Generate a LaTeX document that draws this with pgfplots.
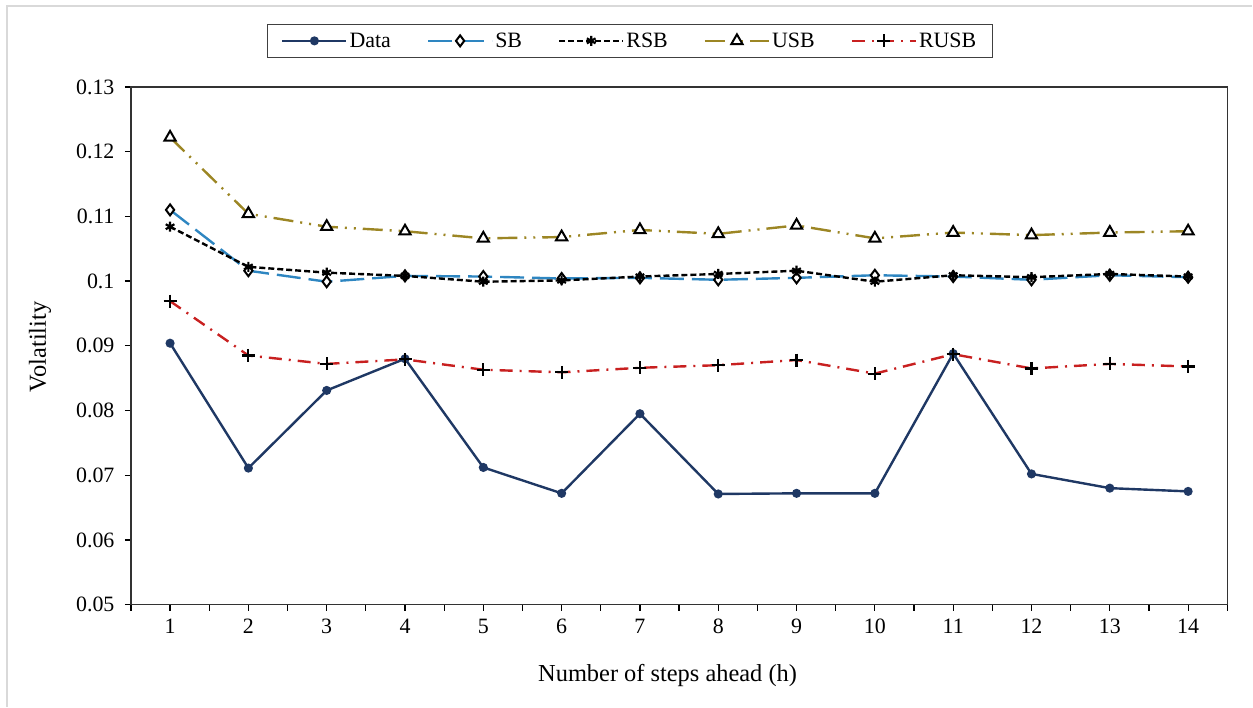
\documentclass[border=0pt]{standalone}
\usepackage{fontspec}
\setmainfont{Liberation Serif}
\usepackage{pgfplots}
\pgfplotsset{compat=1.18}
\definecolor{navy}{RGB}{31,56,100}
\definecolor{sbblue}{RGB}{46,134,193}
\definecolor{usbgold}{RGB}{156,134,36}
\definecolor{rusbred}{RGB}{200,32,32}
\begin{document}
\begin{tikzpicture}[x=1bp,y=1bp]
\path (0,0) rectangle (1253,707);
\draw[black!15, line width=1.5bp] (7,0) -- (7,701) -- (1253,701);
\begin{axis}[
  at={(131bp,102bp)}, anchor=south west,
  width=1097bp, height=518bp, scale only axis,
  xmin=0.5, xmax=14.5, ymin=0.05, ymax=0.13,
  xtick={1,2,3,4,5,6,7,8,9,10,11,12,13,14},
  xticklabels={1,2,3,4,5,6,7,8,9,10,11,12,13,14},
  minor xtick={0.5,1.5,2.5,3.5,4.5,5.5,6.5,7.5,8.5,9.5,10.5,11.5,12.5,13.5,14.5},
  ytick={0.05,0.06,0.07,0.08,0.09,0.1,0.11,0.12,0.13},
  yticklabels={0.05,0.06,0.07,0.08,0.09,0.1,0.11,0.12,0.13},
  xtick pos=bottom, ytick pos=left,
  /pgf/number format/assume math mode=true,
  tick align=outside,
  major tick length=6bp, minor tick length=6bp,
  tick style={black, line width=1.2bp},
  axis line style={black!80, line width=1.5bp},
  ticklabel style={font=\fontsize{22}{26}\selectfont},
  xticklabel style={yshift=-5bp},
  yticklabel style={xshift=-7bp},
  xlabel={Number of steps ahead (h)},
  ylabel={Volatility},
  label style={font=\fontsize{24.5}{28}\selectfont},
  xlabel style={at={(axis description cs:0.4895,-0.137)}, anchor=center},
  ylabel style={at={(axis description cs:-0.083,0.498)}, anchor=center},
  legend columns=5,
  legend style={at={(0.455,1.089)}, anchor=center, draw=black!75, line width=1.2bp,
    font=\fontsize{22}{26}\selectfont, inner xsep=14bp, inner ysep=6.5bp,
    /tikz/every even column/.append style={column sep=34bp}},
  legend image code/.code={\draw[mark repeat=2,mark phase=2] plot coordinates {(0bp,0bp) (32bp,0bp) (64bp,0bp)};},
]
\addplot[navy, line width=2.4bp, mark=*, mark size=3.3bp, mark options={solid, fill=navy, draw=navy}] coordinates {
(1,0.0904) (2,0.0711) (3,0.0831) (4,0.0880) (5,0.0712) (6,0.0672) (7,0.0795)
(8,0.0671) (9,0.0672) (10,0.0672) (11,0.0888) (12,0.0702) (13,0.0680) (14,0.0675)};
\addlegendentry{Data}
\addplot[sbblue, line width=2.4bp, dash pattern=on 24bp off 8bp, mark=diamond*, mark size=5.5bp,
  mark options={solid, fill=white, draw=black, line width=2bp}] coordinates {
(1,0.1110) (2,0.1016) (3,0.0999) (4,0.1008) (5,0.1007) (6,0.1004) (7,0.1005)
(8,0.1002) (9,0.1005) (10,0.1009) (11,0.1007) (12,0.1002) (13,0.1009) (14,0.1006)};
\addlegendentry{SB}
\addplot[black, line width=2.4bp, dash pattern=on 6bp off 3bp, mark=asterisk, mark size=5bp,
  mark options={solid, draw=black, line width=2.2bp}] coordinates {
(1,0.1084) (2,0.1022) (3,0.1013) (4,0.1008) (5,0.0999) (6,0.1001) (7,0.1007)
(8,0.1011) (9,0.1016) (10,0.0999) (11,0.1009) (12,0.1006) (13,0.1011) (14,0.1007)};
\addlegendentry{RSB}
\addplot[usbgold, line width=2.4bp, dash pattern=on 20bp off 7bp on 2bp off 7bp on 2bp off 7bp, mark=triangle*, mark size=6.5bp,
  mark options={solid, fill=white, draw=black, line width=2bp}] coordinates {
(1,0.1222) (2,0.1104) (3,0.1084) (4,0.1077) (5,0.1066) (6,0.1068) (7,0.1079)
(8,0.1073) (9,0.1086) (10,0.1066) (11,0.1075) (12,0.1071) (13,0.1075) (14,0.1077)};
\addlegendentry{USB}
\addplot[rusbred, line width=2.4bp, dash pattern=on 13bp off 7bp on 2bp off 7bp, mark=+, mark size=6.5bp,
  mark options={solid, draw=black, line width=2.2bp}] coordinates {
(1,0.0969) (2,0.0885) (3,0.0872) (4,0.0879) (5,0.0863) (6,0.0859) (7,0.0866)
(8,0.0870) (9,0.0878) (10,0.0857) (11,0.0887) (12,0.0865) (13,0.0872) (14,0.0868)};
\addlegendentry{RUSB}
\end{axis}
\end{tikzpicture}
\end{document}
